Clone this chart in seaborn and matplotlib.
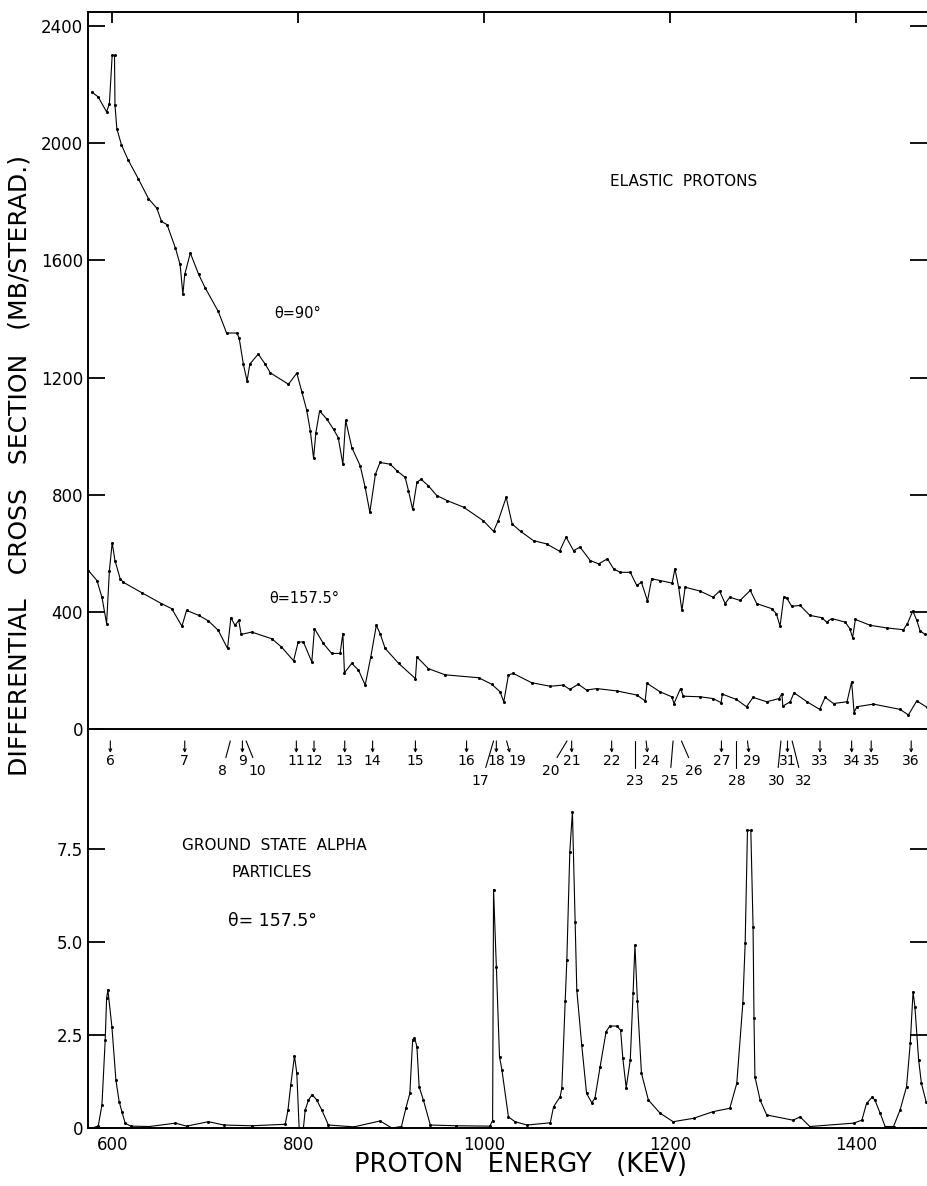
import matplotlib
matplotlib.use("Agg")
import matplotlib.pyplot as plt
import matplotlib.transforms as mtransforms
import seaborn as sns
import numpy as np

# Elastic protons, theta = 90 deg (keV, mb/sr)
e90 = [578, 585, 594, 597, 600, 602.5, 603, 605, 610, 617, 628, 639, 648, 653, 659, 668, 673, 676, 678,
       684, 693, 700, 714, 723, 734, 736.5, 741, 745, 748, 757, 764.5, 770, 789.5, 798.5, 804, 809, 813,
       816.5, 819, 823, 831, 838, 843, 848, 851, 857.6, 866.6, 872, 877, 883, 888, 899, 906, 915, 918.5,
       923, 927.6, 932, 940, 949, 960, 978, 999, 1010, 1015, 1023.6, 1030, 1039, 1053, 1067, 1081, 1088,
       1096, 1103, 1114, 1123, 1132.5, 1139, 1146, 1157, 1164, 1169, 1175.5, 1180, 1189, 1202, 1205, 1209,
       1212.5, 1216, 1232, 1246, 1253, 1259, 1264, 1275, 1286, 1293, 1309, 1314, 1318, 1322, 1325, 1330.6,
       1339.6, 1350, 1363, 1368, 1373.6, 1388, 1393, 1396, 1399, 1415, 1433, 1450.7, 1455, 1460.7, 1465,
       1468.6, 1474]
s90 = [2175, 2158, 2107, 2135, 2300, 2300, 2130, 2050, 1994, 1944, 1879, 1811, 1778, 1733, 1722, 1642,
       1586, 1484, 1552, 1625, 1552, 1506, 1426, 1352, 1352, 1335, 1246, 1188, 1246, 1280, 1246, 1216,
       1177, 1215, 1150, 1090, 1018, 925, 1012, 1086, 1057, 1023, 995, 904, 1054, 961, 899, 825, 740, 870,
       910, 904, 882, 859, 814, 750, 842, 853, 830, 797, 780, 757, 711, 675, 711, 791, 700, 675, 643, 632,
       607, 655, 609, 621, 575, 564, 581, 547, 535, 535, 490, 501, 437, 513, 507, 498, 547, 484, 405, 484,
       471, 450, 471, 428, 450, 439, 473, 428, 411, 394, 351, 450, 448, 419, 422, 388, 380, 365, 377, 365,
       343, 312, 374, 354, 345, 339, 360, 403, 371, 335, 323]

# Elastic protons, theta = 157.5 deg
e157 = [574.5, 583.6, 589, 594, 597, 600, 603, 608.6, 612, 632, 653, 664, 675, 680, 693, 703.5, 714, 724,
        727.6, 732, 736, 738.7, 750, 771.7, 782, 795, 800, 805.6, 814.6, 817.5, 827, 836, 845, 848, 849.7,
        857.6, 864.8, 872, 878, 884, 888, 893.5, 908, 926, 927.6, 940, 958, 994, 1008, 1017, 1021, 1026,
        1031, 1051, 1071, 1085, 1092, 1101, 1110, 1121, 1142.5, 1164, 1173, 1175, 1189, 1201.6, 1204, 1211,
        1214, 1232, 1246, 1254.6, 1256, 1271, 1282, 1289, 1303.6, 1317, 1320, 1321, 1329, 1333, 1347,
        1360.6, 1366.5, 1375.5, 1390, 1395, 1397.6, 1400.5, 1418.4, 1447, 1456, 1465, 1476]
s157 = [541, 507, 450, 360, 541, 636, 575, 513, 501, 465, 428, 411, 351, 405, 388, 369, 337, 275, 380, 354,
        371, 323, 331, 308, 280, 233, 297, 297, 229, 343, 292, 258, 258, 326, 192, 224, 201, 150, 246, 354,
        326, 275, 224, 172, 246, 206, 185, 175, 153, 127, 93, 184, 190, 158, 146, 150, 135, 153, 133, 138,
        130, 116, 96, 156, 127, 110, 87, 138, 112, 110, 104, 90, 119, 101, 76, 108, 93, 104, 121, 78, 93,
        124, 93, 67, 108, 87, 93, 161, 56, 76, 85, 67, 48, 96, 74]

# Ground state alpha particles, theta = 157.5 deg
e_alpha = [578, 585, 589, 592.5, 594, 595.4, 599.7, 604, 607.5, 610.4, 614, 620, 640, 668, 680, 703.5, 720,
           750, 786, 789, 792, 796, 798.5, 801, 805.6, 807.5, 811, 815, 820, 825.4, 832.5, 860, 888, 900.6,
           911, 915.7, 920, 923, 925, 927.6, 930, 934.6, 942, 970, 1006, 1009, 1010, 1013, 1016.4, 1019,
           1026, 1033, 1046, 1071, 1074.5, 1081.6, 1083.4, 1087, 1088.8, 1092, 1094.8, 1097.7, 1099.5,
           1104.8, 1110, 1115.6, 1119, 1124.6, 1131, 1135, 1142.5, 1146.6, 1149, 1152.6, 1157, 1160, 1162,
           1164.7, 1169, 1176.5, 1189, 1203, 1225, 1246, 1264, 1271.5, 1278, 1280.5, 1283, 1286.6, 1289,
           1290, 1291, 1296.6, 1303.7, 1332, 1339.6, 1350, 1397, 1406, 1411, 1417, 1420, 1425.6, 1431,
           1440, 1447, 1454, 1458, 1461, 1463, 1467, 1470, 1475]
s_alpha = [0.0, 0.05, 0.62, 2.37, 3.49, 3.71, 2.72, 1.29, 0.71, 0.44, 0.13, 0.05, 0.04, 0.13, 0.05, 0.17,
           0.08, 0.06, 0.1, 0.48, 1.16, 1.94, 1.47, 0.0, 0.0, 0.48, 0.75, 0.9, 0.75, 0.48, 0.08, 0.03, 0.19,
           0.0, 0.04, 0.53, 0.93, 2.37, 2.43, 2.19, 1.11, 0.75, 0.08, 0.06, 0.05, 0.2, 6.41, 4.34, 1.92,
           1.56, 0.30, 0.17, 0.08, 0.14, 0.57, 0.84, 1.07, 3.4, 4.52, 7.43, 8.5, 5.55, 3.71, 2.23, 0.93,
           0.68, 0.8, 1.65, 2.59, 2.74, 2.74, 2.63, 1.87, 1.08, 1.83, 3.62, 4.92, 3.40, 1.47, 0.75, 0.40,
           0.17, 0.26, 0.44, 0.53, 1.2, 3.35, 4.96, 8.0, 8.0, 5.41, 2.95, 1.38, 0.75, 0.35, 0.21, 0.3, 0.04,
           0.13, 0.21, 0.66, 0.83, 0.75, 0.40, 0.04, 0.04, 0.48, 1.11, 2.28, 3.66, 3.26, 1.83, 1.2, 0.71]

# resonance markers between the panels
res_num = [6, 7, 8, 9, 10, 11, 12, 13, 14, 15, 16, 17, 18, 19, 20, 21, 22, 23, 24, 25, 26, 27, 28, 29,
           30, 31, 32, 33, 34, 35, 36]
res_e = [598, 678, 727, 740, 744, 798, 817, 850, 880, 926, 981, 1010, 1013, 1024, 1089, 1094, 1137, 1162,
         1174, 1203, 1212, 1255, 1271, 1283, 1319, 1326, 1331, 1361, 1395, 1416, 1459]
res_dx = [0, 0, -8, 0, 12, 0, 0, 0, 0, 0, 0, -14, 0, 12, -18, 0, 0, 0, 5, -4, 13, 0, 0, 5, -5, 0, 12, 0,
          0, 0, 0]
res_row = [0, 0, 1, 0, 1, 0, 0, 0, 0, 0, 0, 2, 0, 0, 1, 0, 0, 2, 0, 2, 1, 0, 2, 0, 2, 0, 2, 0, 0, 0, 0]

x_ticks = [600, 800, 1000, 1200, 1400]

sns.set_style("white")
plt.rcParams['font.family'] = ['DejaVu Sans']
plt.rcParams['text.color'] = 'black'

W, H = 927, 1186
fig = plt.figure(figsize=(W / 100, H / 100), dpi=100)
ax_top = fig.add_axes([88 / W, (H - 729) / H, 1 - 88 / W, (729 - 12) / H])
ax_bot = fig.add_axes([88 / W, (H - 1128) / H, 1 - 88 / W, (1128 - 731) / H])

line_kw = dict(color='black', linewidth=0.8, marker='o', markersize=2.2, markeredgewidth=0,
               estimator=None, sort=False, legend=False)
sns.lineplot(x=e90, y=s90, ax=ax_top, **line_kw)
sns.lineplot(x=e157, y=s157, ax=ax_top, **line_kw)
sns.lineplot(x=e_alpha, y=s_alpha, ax=ax_bot, **line_kw)

for ax in (ax_top, ax_bot):
    ax.set_xlim(574, 1476)
    ax.set_xticks(x_ticks)
    ax.set_xlabel('')
    ax.set_ylabel('')
    ax.spines['right'].set_visible(False)
    for s in ('left', 'bottom', 'top'):
        ax.spines[s].set_linewidth(1.4)
        ax.spines[s].set_color('black')
    ax.tick_params(direction='in', length=10, width=1.3, colors='black', labelsize=12,
                   right=True, top=True)
    ax.tick_params(axis='y', which='major', right=True, length=6)
    ax.tick_params(axis='y', which='major', left=True, length=12)

# top panel
ax_top.set_ylim(0, 2448)
ax_top.set_yticks(np.arange(0, 2401, 400))
ax_top.tick_params(axis='x', labelbottom=False, length=8)
ax_top.text(1214, 1869, 'ELASTIC  PROTONS', ha='center', va='center', fontsize=11)
ax_top.text(799, 1419, 'θ=90°', ha='center', va='center', fontsize=10.5)
ax_top.text(807, 446, 'θ=157.5°', ha='center', va='center', fontsize=10.5)

# bottom panel
ax_bot.set_ylim(0, 10.67)
ax_bot.set_yticks([0, 2.5, 5.0, 7.5])
ax_bot.set_yticklabels(['0', '2.5', '5.0', '7.5'])
ax_bot.spines['top'].set_visible(False)
ax_bot.tick_params(axis='x', top=False, pad=6)
ax_bot.text(774, 7.6, 'GROUND  STATE  ALPHA', ha='center', va='center', fontsize=11)
ax_bot.text(772, 6.88, 'PARTICLES', ha='center', va='center', fontsize=11)
ax_bot.text(772, 5.56, 'θ= 157.5°', ha='center', va='center', fontsize=12.5)

# resonance arrows and numbers
trans = mtransforms.blended_transform_factory(ax_bot.transData, ax_bot.transAxes)
row_y = {0: 0.925, 1: 0.898, 2: 0.873}
for n, e, dx, r in zip(res_num, res_e, res_dx, res_row):
    ty = row_y[r]
    if r == 0:
        ax_bot.annotate('', xy=(e + dx * 0.3, ty + 0.02), xytext=(e, 0.975), xycoords=trans,
                        textcoords=trans,
                        arrowprops=dict(arrowstyle='->', lw=0.8, color='black', mutation_scale=5,
                                        shrinkA=0, shrinkB=0))
    else:
        ax_bot.plot([e, e + dx * 0.6], [0.975, ty + 0.035], color='black', lw=0.8,
                    transform=trans, clip_on=False)
    ax_bot.text(e + dx, ty, str(n), ha='center', va='center', fontsize=10, transform=trans)

fig.text(20 / W, (H - 465) / H, 'DIFFERENTIAL   CROSS   SECTION   (MB/STERAD.)', rotation=90,
         ha='center', va='center', fontsize=18)
fig.text(521 / W, (H - 1165) / H, 'PROTON   ENERGY   (KEV)', ha='center', va='center', fontsize=18.5)

fig.savefig('out.png', dpi=100)
